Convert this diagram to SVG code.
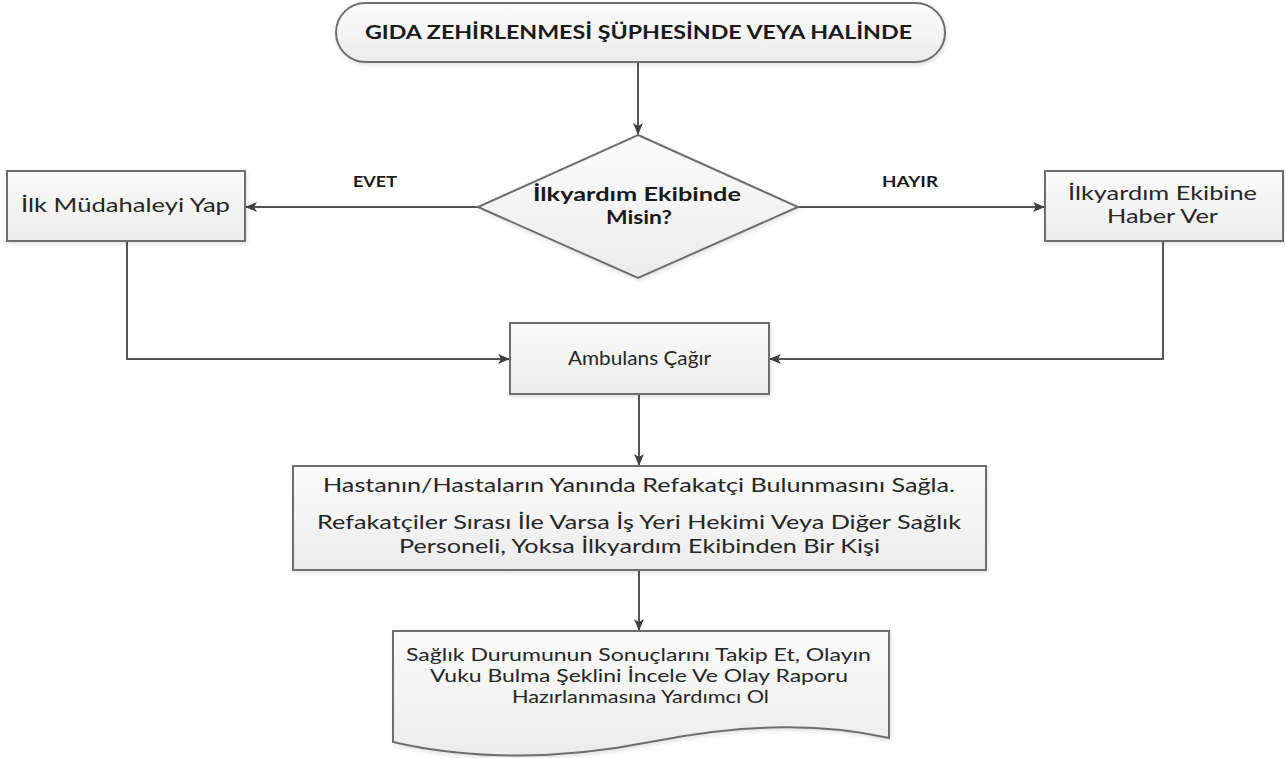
<svg xmlns="http://www.w3.org/2000/svg" width="1285" height="758" viewBox="0 0 1285 758">
<style>
.shape{fill:url(#g);stroke:#6e6e6e;stroke-width:2;filter:url(#sh)}
.t{font-family:Lato,"Open Sans","Liberation Sans",sans-serif;font-size:19px;fill:#262626;text-anchor:middle}
.b{font-weight:bold;fill:#1a1a1a}
.s{font-size:17.5px}
.c{fill:none;stroke:#555;stroke-width:2;marker-end:url(#arr)}
</style>
<defs>
<linearGradient id="g" x1="0" y1="0" x2="0" y2="1">
<stop offset="0" stop-color="#fbfbfb"/>
<stop offset="1" stop-color="#ececec"/>
</linearGradient>
<filter id="sh" x="-10%" y="-10%" width="120%" height="130%">
<feDropShadow dx="1" dy="2" stdDeviation="2" flood-color="#000" flood-opacity="0.12"/>
</filter>
<marker id="arr" markerWidth="12" markerHeight="10" refX="11" refY="5" orient="auto" markerUnits="userSpaceOnUse">
<path d="M0,0 L12,5 L0,10 L3,5 Z" fill="#404040"/>
</marker>
</defs>
<rect width="1285" height="758" fill="#fff"/>
<g id="connectors">
<path class="c" d="M638,62 V134"/>
<path class="c" d="M478,207 H246"/>
<path class="c" d="M798,207 H1044"/>
<path class="c" d="M127,241 V359 H509"/>
<path class="c" d="M1163,241 V359 H770"/>
<path class="c" d="M639,394 V465"/>
<path class="c" d="M639,570 V630"/>
<text class="t b" x="375" y="187" style="font-size:15px" textLength="44" lengthAdjust="spacingAndGlyphs">EVET</text>
<text class="t b" x="910" y="187" style="font-size:15px" textLength="56" lengthAdjust="spacingAndGlyphs">HAYIR</text>
</g>
<g id="start">
<rect class="shape" x="336" y="3" width="609" height="59" rx="29.5"/>
<text class="t b" x="638.5" y="39" textLength="547" lengthAdjust="spacingAndGlyphs">GIDA ZEHİRLENMESİ ŞÜPHESİNDE VEYA HALİNDE</text>
</g>
<g id="decision">
<polygon class="shape" points="638,135 798,207 638,278 478,207"/>
<text class="t b" x="637" y="201" style="font-size:18px" textLength="208" lengthAdjust="spacingAndGlyphs">İlkyardım Ekibinde</text>
<text class="t b" x="639" y="224" style="font-size:18px" textLength="66" lengthAdjust="spacingAndGlyphs">Misin?</text>
</g>
<g id="ilk-mudahale">
<rect class="shape" x="7" y="171" width="238" height="70"/>
<text class="t" x="125.5" y="212" textLength="209" lengthAdjust="spacingAndGlyphs">İlk Müdahaleyi Yap</text>
</g>
<g id="haber-ver">
<rect class="shape" x="1045" y="171" width="238" height="70"/>
<text class="t" x="1162.5" y="200" textLength="189" lengthAdjust="spacingAndGlyphs">İlkyardım Ekibine</text>
<text class="t" x="1162.5" y="223" textLength="111" lengthAdjust="spacingAndGlyphs">Haber Ver</text>
</g>
<g id="ambulans">
<rect class="shape" x="510" y="323" width="259" height="71"/>
<text class="t" x="639.5" y="365" textLength="143" lengthAdjust="spacingAndGlyphs">Ambulans Çağır</text>
</g>
<g id="refakatci">
<rect class="shape" x="293" y="466" width="693" height="104"/>
<text class="t" x="639" y="492" textLength="632" lengthAdjust="spacingAndGlyphs">Hastanın/Hastaların Yanında Refakatçi Bulunmasını Sağla.</text>
<text class="t" x="639" y="529" textLength="644" lengthAdjust="spacingAndGlyphs">Refakatçiler Sırası İle Varsa İş Yeri Hekimi Veya Diğer Sağlık</text>
<text class="t" x="639.5" y="553" textLength="481" lengthAdjust="spacingAndGlyphs">Personeli, Yoksa İlkyardım Ekibinden Bir Kişi</text>
</g>
<g id="takip">
<path class="shape" d="M393,631 H889 V738 C820,722 740,724 650,742 C560,760 470,760 393,742 Z"/>
<text class="t s" x="638.5" y="661" textLength="465" lengthAdjust="spacingAndGlyphs">Sağlık Durumunun Sonuçlarını Takip Et, Olayın</text>
<text class="t s" x="639" y="682" textLength="418" lengthAdjust="spacingAndGlyphs">Vuku Bulma Şeklini İncele Ve Olay Raporu</text>
<text class="t s" x="640.5" y="703" textLength="257" lengthAdjust="spacingAndGlyphs">Hazırlanmasına Yardımcı Ol</text>
</g>
</svg>
